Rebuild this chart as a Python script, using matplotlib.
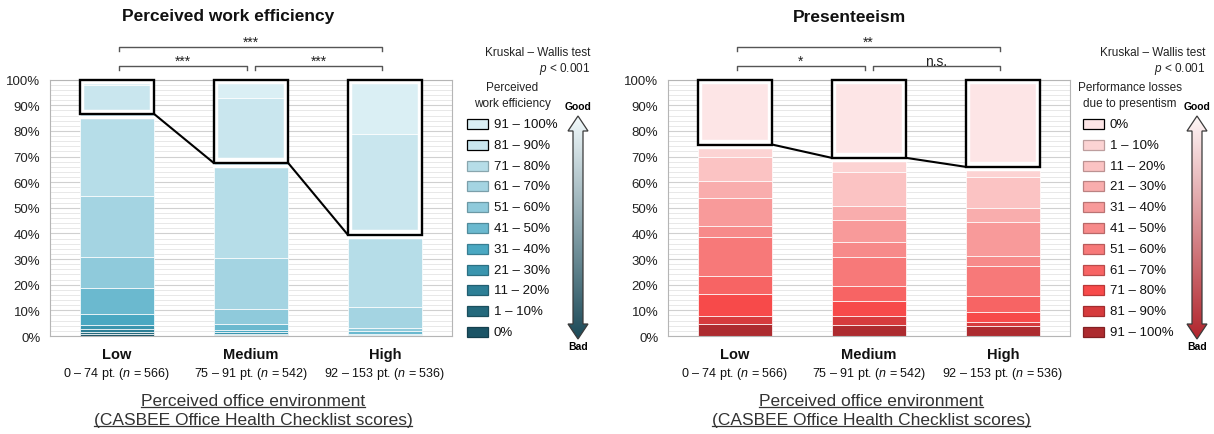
import numpy as np
import matplotlib.pyplot as plt
from matplotlib.patches import Rectangle, Polygon
from matplotlib.colors import LinearSegmentedColormap, to_rgb

plt.rcParams['font.family'] = ['Liberation Sans', 'DejaVu Sans']
plt.rcParams['mathtext.fontset'] = 'custom'
plt.rcParams['mathtext.it'] = 'Liberation Sans:italic'
plt.rcParams['mathtext.rm'] = 'Liberation Sans'

# --- data (percent of respondents, stacked bottom -> top) ---
groups = ['Low', 'Medium', 'High']
score_ranges = ['0 – 74 pt.', '75 – 91 pt.', '92 – 153 pt.']
group_n = [566, 542, 536]

eff_labels = ['0%', '1 – 10%', '11 – 20%', '21 – 30%', '31 – 40%', '41 – 50%',
              '51 – 60%', '61 – 70%', '71 – 80%', '81 – 90%', '91 – 100%']
eff_low = [0.7, 0.7, 1.3, 1.6, 4.1, 10.2, 12.2, 23.9, 31.9, 11.4, 2.0]
eff_medium = [0.2, 0.2, 0.5, 0.8, 0.8, 2.0, 6.1, 19.8, 37.1, 25.2, 7.3]
eff_high = [0.0, 0.1, 0.1, 0.3, 0.4, 0.9, 1.3, 8.2, 28.2, 39.2, 21.3]
eff_colors = ['#1b5466', '#24697c', '#2d7f96', '#3a95ae', '#4aa8c2', '#6bb9cf',
              '#8fcadb', '#a4d4e2', '#b6dde8', '#c9e6ee', '#daeff4']
eff_sig = ['***', '***', '***']  # low-med, med-high, low-high

pres_labels = ['91 – 100%', '81 – 90%', '71 – 80%', '61 – 70%', '51 – 60%', '41 – 50%',
               '31 – 40%', '21 – 30%', '11 – 20%', '1 – 10%', '0%']
pres_low = [4.5, 3.3, 8.7, 6.9, 15.2, 4.5, 10.9, 6.3, 9.4, 5.0, 25.3]
pres_medium = [4.3, 3.6, 5.8, 5.8, 11.4, 5.8, 8.4, 5.8, 13.0, 5.6, 30.5]
pres_high = [3.8, 1.7, 3.9, 6.2, 11.9, 3.9, 13.0, 5.6, 11.9, 4.1, 34.0]
pres_colors = ['#ad2b2f', '#d63b3d', '#f74a4a', '#f76464', '#f77979', '#f78a8a',
               '#f89a9a', '#f9adad', '#fbc3c3', '#fcd3d3', '#fde5e6']
pres_sig = ['*', 'n.s.', '**']

W, H = 1214, 435
Y_TOP, Y_BOT = 80.7, 337
WIDTH = 0.555

fig = plt.figure(figsize=(W / 100, H / 100), dpi=100)
ov = fig.add_axes([0, 0, 1, 1], zorder=10)
ov.set_xlim(0, W)
ov.set_ylim(H, 0)
ov.axis('off')
ov.patch.set_alpha(0)


def darker(c, f=0.75):
    r, g, b = to_rgb(c)
    return (r * f, g * f, b * f)


def draw_panel(x0, x1, series, colors, n_box, sig, title, title_x):
    ax = fig.add_axes([x0 / W, 1 - Y_BOT / H, (x1 - x0) / W, (Y_BOT - Y_TOP) / H])
    x = np.arange(3)
    data = np.array(series)
    cum = np.zeros(3)
    for k in range(data.shape[1]):
        ax.bar(x, data[:, k], bottom=cum, width=WIDTH, color=colors[k],
               edgecolor='white', linewidth=0.5, zorder=2)
        cum += data[:, k]
    box_bottom = data[:, :data.shape[1] - n_box].sum(axis=1)

    # outlined "good" block + connectors
    dx = 2.5 / ((x1 - x0) / 3)
    dy = 2.5 / ((Y_BOT - Y_TOP) / 100)
    for i in range(3):
        b = box_bottom[i]
        ax.plot([i - WIDTH / 2, i + WIDTH / 2], [b - 1.0, b - 1.0], color='white', lw=2.5, zorder=3)
        ax.add_patch(Rectangle((i - WIDTH / 2 + dx, b + dy), WIDTH - 2 * dx, 100 - b - 2 * dy,
                               fill=False, edgecolor='white', lw=3.2, zorder=3))
        ax.add_patch(Rectangle((i - WIDTH / 2, b), WIDTH, 100 - b, fill=False,
                               edgecolor='black', lw=1.7, zorder=4, clip_on=False))
    for i in range(2):
        ax.plot([i + WIDTH / 2, i + 1 - WIDTH / 2], [box_bottom[i], box_bottom[i + 1]],
                color='black', lw=1.5, zorder=4, solid_capstyle='round')

    ax.set_xlim(-0.5, 2.5)
    ax.set_ylim(0, 100)
    ax.set_yticks(range(0, 101, 10))
    ax.set_yticklabels([f'{v}%' for v in range(0, 101, 10)])
    ax.set_yticks(range(0, 101, 2), minor=True)
    ax.set_xticks([])
    ax.grid(axis='y', which='major', color='#d0d0d0', lw=0.8)
    ax.grid(axis='y', which='minor', color='#e8e8e8', lw=0.7)
    ax.set_axisbelow(True)
    ax.tick_params(axis='y', which='both', length=0, pad=7, labelsize=9.5, labelcolor='#222222')
    for s in ax.spines.values():
        s.set_color('#b5b5b5')
        s.set_linewidth(0.8)

    # group labels below bars
    step = (x1 - x0) / 3
    cx = [x0 + (i + 0.5) * step for i in range(3)]
    for i in range(3):
        ov.text(cx[i], 355, groups[i], ha='center', va='center', fontsize=10.5,
                fontweight='bold', color='#111111')
        ov.text(cx[i], 374, f'{score_ranges[i]} ($n$ = {group_n[i]})', ha='center',
                va='center', fontsize=9, color='#111111')

    # significance brackets
    def bracket(xa, xb, y, label):
        ov.plot([xa, xa, xb, xb], [y + 4, y, y, y + 4], color='#555555', lw=1)
        ov.text((xa + xb) / 2, y - 5, label, ha='center', va='center', fontsize=10, color='#222222')

    bracket(cx[0] + 2, cx[1] - 4, 67, sig[0])
    bracket(cx[1] + 4, cx[2] - 3, 67, sig[1])
    bracket(cx[0] + 2, cx[2] - 3, 48, sig[2])

    ov.text(title_x, 17, title, ha='center', va='center', fontsize=12.5, fontweight='bold',
            color='#111111')

    under = []
    under.append(ov.text(cx[1] + 2, 406, 'Perceived office environment', ha='center',
                         va='baseline', fontsize=12.5, color='#333333'))
    under.append(ov.text(cx[1] + 2, 425, '(CASBEE Office Health Checklist scores)', ha='center',
                         va='baseline', fontsize=12.5, color='#333333'))
    return ax, under


def legend_block(xp, right, labels, colors, boxed, header, arrow_x, top_light, bottom_dark):
    ov.text(right, 53, 'Kruskal – Wallis test', ha='right', va='center', fontsize=8.5, color='#222222')
    ov.text(right, 69, '$p$ < 0.001', ha='right', va='center', fontsize=8.5, color='#222222')
    ov.text(header[0], 88, header[1], ha='center', va='center', fontsize=8.5, color='#222222')
    ov.text(header[0], 104, header[2], ha='center', va='center', fontsize=8.5, color='#222222')
    for k, (lab, col) in enumerate(zip(labels, colors)):
        y = 125 + k * 20.8
        ec = 'black' if lab in boxed else darker(col)
        ov.add_patch(Rectangle((xp, y - 5), 21, 10, facecolor=col, edgecolor=ec, lw=0.9))
        ov.text(xp + 27, y, lab, ha='left', va='center', fontsize=9.5, color='#111111')

    # gradient double arrow
    t, b, hh, hw, sw = 117, 340, 15, 10, 5
    pts = [(arrow_x, t), (arrow_x + hw, t + hh), (arrow_x + sw, t + hh), (arrow_x + sw, b - hh),
           (arrow_x + hw, b - hh), (arrow_x, b), (arrow_x - hw, b - hh), (arrow_x - sw, b - hh),
           (arrow_x - sw, t + hh), (arrow_x - hw, t + hh)]
    poly = Polygon(pts, closed=True, facecolor='none', edgecolor='#3a3a3a', lw=0.9, zorder=3)
    ov.add_patch(poly)
    cmap = LinearSegmentedColormap.from_list('g', [top_light, bottom_dark])
    grad = np.linspace(0, 1, 256).reshape(-1, 1)
    im = ov.imshow(grad, cmap=cmap, origin='upper', aspect='auto',
                   extent=(arrow_x - hw, arrow_x + hw, b, t), zorder=2)
    im.set_clip_path(poly)
    ov.text(arrow_x, 107, 'Good', ha='center', va='center', fontsize=7.5, fontweight='bold')
    ov.text(arrow_x, 347, 'Bad', ha='center', va='center', fontsize=7.5, fontweight='bold')


ax1, u1 = draw_panel(50, 452, [eff_low, eff_medium, eff_high], eff_colors, 2, eff_sig,
                     'Perceived work efficiency', 228)
ax2, u2 = draw_panel(668, 1070, [pres_low, pres_medium, pres_high], pres_colors, 1, pres_sig,
                     'Presenteeism', 850)

legend_block(467, 590, eff_labels[::-1], eff_colors[::-1], ['91 – 100%', '81 – 90%'],
             (512, 'Perceived', 'work efficiency'), 578, '#f2fafc', '#1c4a58')
legend_block(1083, 1205, pres_labels[::-1], pres_colors[::-1], ['0%'],
             (1130, 'Performance losses', 'due to presentism'), 1197, '#fff7f7', '#b1252d')
ov.set_xlim(0, W)
ov.set_ylim(H, 0)

# underline the axis captions
fig.canvas.draw()
renderer = fig.canvas.get_renderer()
inv = ov.transData.inverted()
for t in u1 + u2:
    bb = t.get_window_extent(renderer)
    xa = inv.transform((bb.x0, bb.y0))[0]
    xb = inv.transform((bb.x1, bb.y0))[0]
    yb = t.get_position()[1] + 2
    ov.plot([xa, xb], [yb, yb], color='#333333', lw=0.9)

fig.savefig('out.png', dpi=100)
